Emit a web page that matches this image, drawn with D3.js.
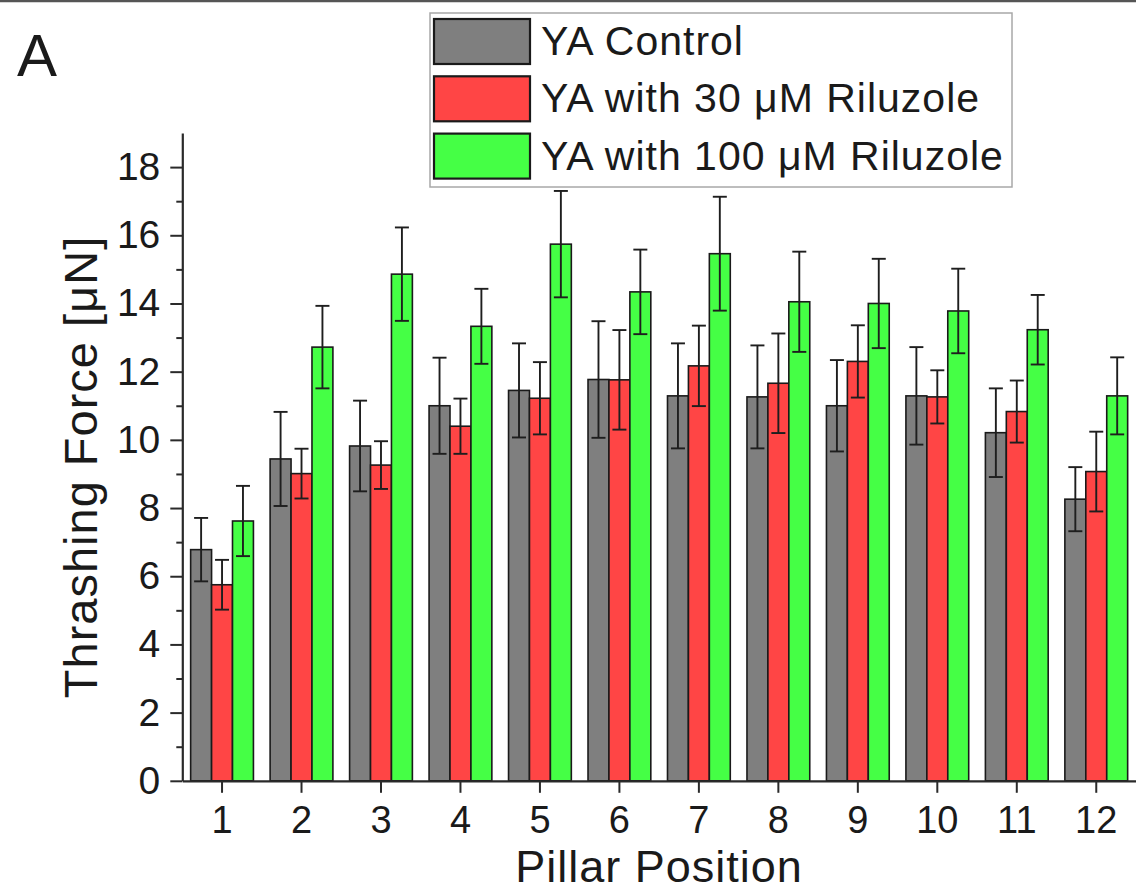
<!DOCTYPE html>
<html>
<head>
<meta charset="utf-8">
<script src="https://cdn.jsdelivr.net/npm/d3@7"></script>
<style>
  html, body { margin: 0; padding: 0; background: #fff; }
  svg { display: block; }
  svg text { font-family: "Liberation Sans", Arial, Helvetica, sans-serif; }
</style>
</head>
<body>
<svg id="chart" width="1136" height="891"></svg>
<script>
// Pillar positions along the x axis
const pillars = [1, 2, 3, 4, 5, 6, 7, 8, 9, 10, 11, 12];

// Series names as shown in the legend
const seriesNames = ["YA Control", "YA with 30 \u03BCM Riluzole", "YA with 100 \u03BCM Riluzole"];
const seriesKeys = ["control", "rz30", "rz100"];
const seriesColors = ["#7f7f7f", "#ff4545", "#45ff45"];

// Mean thrashing force (μN) per pillar
const controlMean = [6.78, 9.44, 9.82, 11.0, 11.45, 11.77, 11.29, 11.26, 11.0, 11.29, 10.21, 8.26];
const rz30Mean    = [5.75, 9.01, 9.26, 10.40, 11.22, 11.76, 12.17, 11.66, 12.3, 11.26, 10.83, 9.07];
const rz100Mean   = [7.62, 12.72, 14.86, 13.33, 15.74, 14.34, 15.46, 14.05, 14.0, 13.78, 13.23, 11.29];

// Error (± half-length of the error bar)
const controlErr = [0.93, 1.38, 1.33, 1.41, 1.38, 1.71, 1.54, 1.51, 1.34, 1.43, 1.30, 0.94];
const rz30Err    = [0.73, 0.73, 0.70, 0.81, 1.06, 1.46, 1.18, 1.46, 1.06, 0.78, 0.91, 1.17];
const rz100Err   = [1.03, 1.21, 1.37, 1.10, 1.56, 1.24, 1.67, 1.47, 1.31, 1.24, 1.02, 1.13];

// Y axis ticks
const yMajorTicks = [0, 2, 4, 6, 8, 10, 12, 14, 16, 18];
const yMinorTicks = [1, 3, 5, 7, 9, 11, 13, 15, 17];

const means = [controlMean, rz30Mean, rz100Mean];
const errs = [controlErr, rz30Err, rz100Err];

const FONT = "'Liberation Sans', Arial, sans-serif";
const svg = d3.select("#chart");
const axisColor = "#2a2a2a";
const textColor = "#1a1a1a";

// frame edge at the top of the figure
svg.append("line")
  .attr("x1", 0).attr("x2", 1136).attr("y1", 1).attr("y2", 1)
  .attr("stroke", "#555").attr("stroke-width", 2.5);

const plot = { left: 182.3, right: 1136, top: 133, bottom: 780.8 };

const x = d3.scaleBand()
  .domain(pillars)
  .range([plot.left, plot.right])
  .paddingInner(0.21)
  .paddingOuter(0.105);

const xSub = d3.scaleBand()
  .domain(seriesKeys)
  .range([0, x.bandwidth()]);

const y = d3.scaleLinear()
  .domain([0, 19])
  .range([plot.bottom, plot.top]);

// Bars
const rows = [];
pillars.forEach((p, i) => {
  seriesKeys.forEach((k, s) => {
    rows.push({ pillar: p, key: k, s, value: means[s][i], err: errs[s][i] });
  });
});

const g = svg.append("g");

g.selectAll("rect.bar")
  .data(rows)
  .join("rect")
  .attr("class", "bar")
  .attr("x", d => x(d.pillar) + xSub(d.key))
  .attr("y", d => y(d.value))
  .attr("width", xSub.bandwidth())
  .attr("height", d => y(0) - y(d.value))
  .attr("fill", d => seriesColors[d.s])
  .attr("stroke", "#1a1a1a")
  .attr("stroke-width", 1.6);

// Error bars
const capW = 14;
const cx = d => x(d.pillar) + xSub(d.key) + xSub.bandwidth() / 2;
const eb = g.selectAll("g.err")
  .data(rows)
  .join("g")
  .attr("class", "err")
  .attr("stroke", "#1e1e1e")
  .attr("stroke-width", 1.9);

eb.append("line")
  .attr("x1", cx).attr("x2", cx)
  .attr("y1", d => y(d.value + d.err))
  .attr("y2", d => y(d.value - d.err));
eb.append("line")
  .attr("x1", d => cx(d) - capW / 2).attr("x2", d => cx(d) + capW / 2)
  .attr("y1", d => y(d.value + d.err)).attr("y2", d => y(d.value + d.err));
eb.append("line")
  .attr("x1", d => cx(d) - capW / 2).attr("x2", d => cx(d) + capW / 2)
  .attr("y1", d => y(d.value - d.err)).attr("y2", d => y(d.value - d.err));

// Y axis (major ticks with labels, minor ticks without)
const yAxis = svg.append("g")
  .attr("transform", `translate(${plot.left},0)`)
  .call(d3.axisLeft(y).tickValues(yMajorTicks).tickSize(12).tickPadding(10).tickSizeOuter(0));
yAxis.attr("font-family", FONT);
yAxis.select(".domain").attr("stroke", axisColor).attr("stroke-width", 2.2);
yAxis.selectAll(".tick line").attr("stroke", axisColor).attr("stroke-width", 2);
yAxis.selectAll(".tick text")
  .attr("font-size", 39).attr("fill", textColor).attr("font-family", FONT);

const yMinor = svg.append("g")
  .attr("transform", `translate(${plot.left},0)`)
  .call(d3.axisLeft(y).tickValues(yMinorTicks).tickSize(6).tickFormat(""));
yMinor.select(".domain").remove();
yMinor.selectAll(".tick line").attr("stroke", axisColor).attr("stroke-width", 2);

// X axis
const xAxis = svg.append("g")
  .attr("transform", `translate(0,${plot.bottom})`)
  .call(d3.axisBottom(x).tickSize(12).tickPadding(13).tickSizeOuter(0));
xAxis.attr("font-family", FONT);
xAxis.select(".domain").attr("stroke", axisColor).attr("stroke-width", 2.2);
xAxis.selectAll(".tick line").attr("stroke", axisColor).attr("stroke-width", 2);
xAxis.selectAll(".tick text")
  .attr("font-size", 38).attr("fill", textColor).attr("font-family", FONT);

// Axis titles
svg.append("text")
  .attr("x", 659).attr("y", 881.5)
  .attr("text-anchor", "middle")
  .attr("font-family", FONT)
  .attr("font-size", 45).attr("letter-spacing", 1).attr("fill", textColor)
  .text("Pillar Position");

svg.append("text")
  .attr("transform", "translate(97,467) rotate(-90)")
  .attr("text-anchor", "middle")
  .attr("font-family", FONT)
  .attr("font-size", 47).attr("letter-spacing", 1).attr("fill", textColor)
  .text("Thrashing Force [\u03BCN]");

// Panel letter
svg.append("text")
  .attr("x", 17).attr("y", 76)
  .attr("font-family", FONT)
  .attr("font-size", 60).attr("fill", textColor)
  .text("A");

// Legend
const legend = svg.append("g").attr("transform", "translate(430,13)");
legend.append("rect")
  .attr("x", 0).attr("y", 0).attr("width", 582).attr("height", 174)
  .attr("fill", "#fff").attr("stroke", "#a8a8a8").attr("stroke-width", 1.5);
const li = legend.selectAll("g.item")
  .data(seriesNames)
  .join("g")
  .attr("class", "item")
  .attr("transform", (d, i) => `translate(0,${6 + i * 57.3})`);
li.append("rect")
  .attr("x", 4).attr("y", 0).attr("width", 96).attr("height", 45)
  .attr("fill", (d, i) => seriesColors[i])
  .attr("stroke", "#1a1a1a").attr("stroke-width", 2.2);
li.append("text")
  .attr("x", 111).attr("y", 36)
  .attr("font-family", FONT)
  .attr("font-size", 41).attr("letter-spacing", 1).attr("fill", textColor)
  .text(d => d);
</script>
</body>
</html>
